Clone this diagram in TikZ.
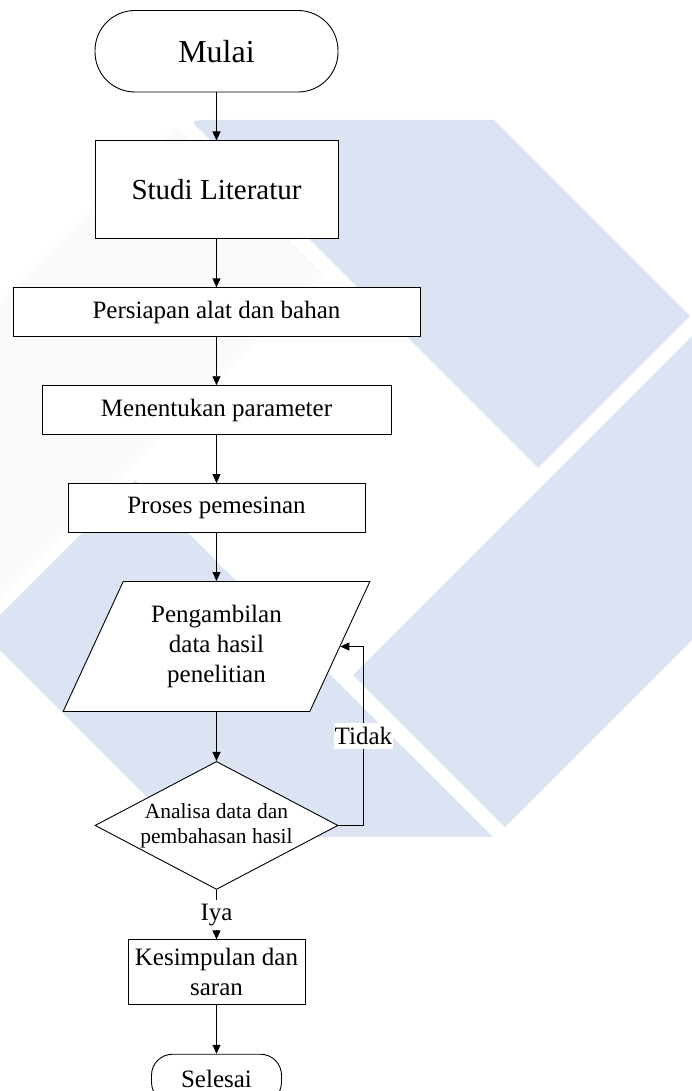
\documentclass[tikz,border=0pt]{standalone}
\usepackage{fontspec}
\setmainfont{Liberation Serif}
\usetikzlibrary{shapes.geometric,arrows.meta,positioning}
\definecolor{wmblue}{RGB}{220,227,242}
\definecolor{wmfaint}{RGB}{249,250,252}

\begin{document}
\begin{tikzpicture}[
        x=1pt, y=-1pt,
        base/.style={draw, fill=white, line width=0.9pt, inner sep=2pt, align=center},
        proc/.style={base, rectangle, font=\fontsize{25}{30}\selectfont},
        term/.style={base, rectangle, rounded corners=#1},
        io/.style={base, trapezium, trapezium left angle=63.43, trapezium right angle=116.57, trapezium stretches=true, font=\fontsize{25}{30}\selectfont},
        decision/.style={base, diamond, inner sep=0pt},
        arr/.style={-{Triangle[length=9pt, width=8pt]}, line width=0.9pt},
        lbl/.style={fill=white, inner xsep=1pt, inner ysep=4pt, font=\fontsize{25}{30}\selectfont}
    ]
        \useasboundingbox (0,0) rectangle (692,1091);
        % Watermark
        \fill[wmfaint] (0,300) -- (165,135) .. controls (175,125) .. (185,135) -- (323,273) -- (0,596) -- cycle;
        \fill[wmblue] (494,120) -- (690,316) -- (538,468) -- (200,130) .. controls (190,120) .. (214,120) -- cycle;
        \fill[wmblue] (0,615) -- (135,480) -- (493,837) -- (187,837) -- (0,650) -- cycle;
        \fill[wmblue] (692,336) -- (353,675) -- (505,827) -- (692,640) -- cycle;

        % Flow
        \node[term=40pt, minimum width=243pt, minimum height=81.5pt, font=\fontsize{32}{38}\selectfont] (mulai) at (216.5,51.25) {Mulai};
        \node[proc, minimum width=243pt, minimum height=98pt, font=\fontsize{29}{34}\selectfont, below=48pt of mulai] (studi) {Studi Literatur};
        \node[proc, minimum width=407pt, minimum height=49pt, below=48pt of studi] (persiapan) {Persiapan alat dan bahan};
        \node[proc, minimum width=349pt, minimum height=49pt, below=48pt of persiapan] (param) {Menentukan parameter};
        \node[proc, minimum width=297pt, minimum height=49pt, below=48pt of param] (proses) {Proses pemesinan};
        \node[io, minimum width=307pt, minimum height=130pt, below=48pt of proses] (data) {Pengambilan\\data hasil\\penelitian};
        \node[decision, minimum width=243pt, minimum height=128pt, below=49pt of data,
            label={[align=center, font=\fontsize{21.5}{25}\selectfont]center:Analisa data dan\\pembahasan hasil}] (analisa) {};
        \node[proc, minimum width=177pt, minimum height=64.5pt, below=49.5pt of analisa] (simpul) {Kesimpulan dan\\saran};
        \node[term=21pt, minimum width=130pt, minimum height=49pt, font=\fontsize{25}{30}\selectfont, below=49pt of simpul] (selesai) {Selesai};

        % Arrows
        \draw[arr] (mulai) -- (studi);
        \draw[arr] (studi) -- (persiapan);
        \draw[arr] (persiapan) -- (param);
        \draw[arr] (param) -- (proses);
        \draw[arr] (proses) -- (data);
        \draw[arr] (data) -- (analisa);
        \draw[arr] (analisa) -- node[lbl] {Iya} (simpul);
        \draw[arr] (simpul) -- (selesai);
        \draw[arr] (analisa.east) -- ++(25,0) |- node[lbl, pos=0.25] {Tidak} (data.east);
    \end{tikzpicture}
\end{document}
